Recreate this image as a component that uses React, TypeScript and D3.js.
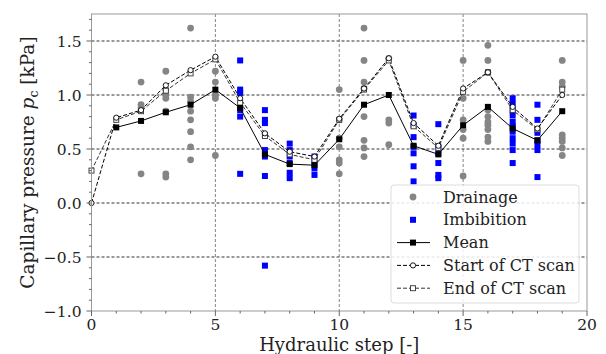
import React from "react";
import * as d3 from "d3";

// hydraulic steps
const steps = d3.range(0, 20);

// mean over samples (step 1..19)
const meanSteps = d3.range(1, 20);
const meanVals = [0.70, 0.76, 0.84, 0.91, 1.05, 0.88, 0.45, 0.36, 0.35, 0.59, 0.91, 1.00, 0.53, 0.45, 0.72, 0.89, 0.69, 0.58, 0.85];

// start / end of CT scan (step 0..19)
const startVals = [0.0, 0.79, 0.86, 1.09, 1.23, 1.355, 0.97, 0.645, 0.475, 0.43, 0.78, 1.06, 1.34, 0.74, 0.53, 1.06, 1.21, 0.89, 0.69, 1.00];
const endVals = [0.30, 0.77, 0.85, 1.04, 1.20, 1.33, 0.93, 0.62, 0.45, 0.40, 0.77, 1.05, 1.32, 0.71, 0.51, 1.03, 1.21, 0.86, 0.68, 1.05];

// single samples
const drainage: [number, number[]][] = [
  [2, [1.12, 0.91, 0.88, 0.27]],
  [3, [1.22, 1.05, 1.0, 0.97, 0.85, 0.27, 0.24]],
  [4, [1.62, 0.98, 0.94, 0.85, 0.77, 0.66, 0.52, 0.40]],
  [5, [1.22, 1.12, 1.0, 0.97, 0.44]],
  [10, [1.05, 0.77, 0.60, 0.52, 0.40, 0.37, 0.27]],
  [11, [1.62, 1.32, 1.12, 1.06, 0.80, 0.58, 0.51, 0.43]],
  [12, [1.34, 0.77, 0.74, 0.54]],
  [15, [1.32, 0.97, 0.77, 0.68, 0.60, 0.25]],
  [16, [1.46, 1.32, 1.21, 0.86, 0.80, 0.75, 0.72, 0.68, 0.61, 0.57]],
  [19, [1.32, 1.12, 1.08, 0.63, 0.60, 0.57, 0.51, 0.44]],
];
const imbibition: [number, number[]][] = [
  [6, [1.32, 1.05, 1.02, 0.86, 0.80, 0.27]],
  [7, [0.86, 0.77, 0.74, 0.63, 0.49, 0.43, 0.25, -0.58]],
  [8, [0.55, 0.49, 0.43, 0.37, 0.28, 0.23]],
  [9, [0.43, 0.37, 0.32, 0.26]],
  [13, [0.81, 0.72, 0.61, 0.52, 0.46, 0.34, 0.20]],
  [14, [0.73, 0.52, 0.46, 0.37, 0.26, 0.23]],
  [17, [0.97, 0.92, 0.86, 0.81, 0.75, 0.71, 0.66, 0.60, 0.55, 0.49, 0.37]],
  [18, [0.91, 0.77, 0.65, 0.58, 0.54, 0.49, 0.24]],
];

const xTicks = [0, 5, 10, 15, 20];
const yTicks = [-1.0, -0.5, 0.0, 0.5, 1.0, 1.5];
const legendItems = ["Drainage", "Imbibition", "Mean", "Start of CT scan", "End of CT scan"];

const W = 606, H = 354;
const left = 91.5, right = 587, top = 14, bottom = 311;
const font = "DejaVu Serif, serif";
const GRAY = "#858585";
const BLUE = "#0000ff";

export default function App() {
  const x = d3.scaleLinear().domain([0, 20]).range([left, right]);
  const y = d3.scaleLinear().domain([-1.0, 1.75]).range([bottom, top]);
  const line = d3.line<[number, number]>().x(d => x(d[0])).y(d => y(d[1]));
  const fmt = (v: number) => d3.format(".1f")(v).replace("-", "\u2212");

  const meanPts = meanSteps.map((s, i) => [s, meanVals[i]] as [number, number]);
  const startPts = steps.map((s, i) => [s, startVals[i]] as [number, number]);
  const endPts = steps.map((s, i) => [s, endVals[i]] as [number, number]);

  const xMinor = d3.range(0, 21).filter(v => v % 5 !== 0);
  const yMinor = d3.range(-10, 18).map(v => v / 10).filter(v => Math.abs(v * 2 - Math.round(v * 2)) > 1e-6);

  const lx = 397, ly = 197, lstep = 22.8;

  return (
    <svg width={W} height={H} style={{ position: "absolute", left: 0, top: 0, background: "#fff" }} fontFamily={font}>
      {/* grid */}
      {yTicks.filter(v => v > -1).map(v => (
        <line key={"gy" + v} x1={left} x2={right} y1={y(v)} y2={y(v)} stroke="#000" strokeWidth={0.8} strokeDasharray="3,2" />
      ))}
      {[5, 10, 15].map(v => (
        <line key={"gx" + v} x1={x(v)} x2={x(v)} y1={top} y2={bottom} stroke="#666" strokeWidth={0.8} strokeDasharray="3,2" />
      ))}

      {/* samples */}
      {drainage.flatMap(([s, vals]) => vals.map((v, j) => (
        <circle key={`d${s}-${j}`} cx={x(s)} cy={y(v)} r={3.4} fill={GRAY} />
      )))}
      {imbibition.flatMap(([s, vals]) => vals.map((v, j) => (
        <rect key={`i${s}-${j}`} x={x(s) - 3} y={y(v) - 3} width={6} height={6} fill={BLUE} />
      )))}

      {/* lines */}
      <path d={line(endPts) || ""} fill="none" stroke="#333" strokeWidth={1} strokeDasharray="4,2" />
      <path d={line(startPts) || ""} fill="none" stroke="#000" strokeWidth={1} strokeDasharray="4,2" />
      <path d={line(meanPts) || ""} fill="none" stroke="#000" strokeWidth={1} />
      {endPts.map(([s, v]) => (
        <rect key={"e" + s} x={x(s) - 2.5} y={y(v) - 2.5} width={5} height={5} fill="#fff" stroke="#333" strokeWidth={0.9} />
      ))}
      {startPts.map(([s, v]) => (
        <circle key={"s" + s} cx={x(s)} cy={y(v)} r={2.6} fill="#fff" stroke="#000" strokeWidth={0.9} />
      ))}
      {meanPts.map(([s, v]) => (
        <rect key={"m" + s} x={x(s) - 3} y={y(v) - 3} width={6} height={6} fill="#000" />
      ))}

      {/* frame */}
      <rect x={left} y={top} width={right - left} height={bottom - top} fill="none" stroke="#999" strokeWidth={1} />

      {/* x axis */}
      {xTicks.map(v => (
        <g key={"xt" + v}>
          <line x1={x(v)} x2={x(v)} y1={bottom} y2={bottom + 5} stroke="#666" />
          <text x={x(v)} y={bottom + 19} fontSize={15.5} textAnchor="middle" fill="#222">{v}</text>
        </g>
      ))}
      {xMinor.map(v => (
        <line key={"xm" + v} x1={x(v)} x2={x(v)} y1={bottom} y2={bottom + 2.5} stroke="#666" />
      ))}
      <text x={(left + right) / 2} y={351} fontSize={18} textAnchor="middle" fill="#222">Hydraulic step [-]</text>

      {/* y axis */}
      {yTicks.map(v => (
        <g key={"yt" + v}>
          <line x1={left - 5} x2={left} y1={y(v)} y2={y(v)} stroke="#666" />
          <text x={left - 10} y={y(v) + 5.5} fontSize={15.5} textAnchor="end" fill="#222">{fmt(v)}</text>
        </g>
      ))}
      {yMinor.map(v => (
        <line key={"ym" + v} x1={left - 2.5} x2={left} y1={y(v)} y2={y(v)} stroke="#666" />
      ))}
      <text transform={`translate(34,${(top + bottom) / 2}) rotate(-90)`} fontSize={18.5} textAnchor="middle" fill="#222">
        Capillary pressure <tspan fontStyle="italic">p</tspan><tspan fontSize={12.5} dy={4}>c</tspan><tspan dy={-4}> [kPa]</tspan>
      </text>

      {/* legend */}
      <rect x={391} y={185} width={188} height={118} rx={3} fill="#fff" fillOpacity={0.85} stroke="#ddd" />
      {legendItems.map((name, i) => {
        const cy = ly + i * lstep;
        const mx = lx + 16;
        return (
          <g key={name}>
            {i === 0 && <circle cx={mx} cy={cy} r={3.4} fill={GRAY} />}
            {i === 1 && <rect x={mx - 3} y={cy - 3} width={6} height={6} fill={BLUE} />}
            {i === 2 && <>
              <line x1={lx} x2={lx + 33} y1={cy} y2={cy} stroke="#000" />
              <rect x={mx - 3} y={cy - 3} width={6} height={6} fill="#000" />
            </>}
            {i === 3 && <>
              <line x1={lx} x2={lx + 33} y1={cy} y2={cy} stroke="#000" strokeDasharray="4,2" />
              <circle cx={mx} cy={cy} r={2.6} fill="#fff" stroke="#000" strokeWidth={0.9} />
            </>}
            {i === 4 && <>
              <line x1={lx} x2={lx + 33} y1={cy} y2={cy} stroke="#333" strokeDasharray="4,2" />
              <rect x={mx - 2.5} y={cy - 2.5} width={5} height={5} fill="#fff" stroke="#333" strokeWidth={0.9} />
            </>}
            <text x={443} y={cy + 5.5} fontSize={16} fill="#222">{name}</text>
          </g>
        );
      })}
    </svg>
  );
}
